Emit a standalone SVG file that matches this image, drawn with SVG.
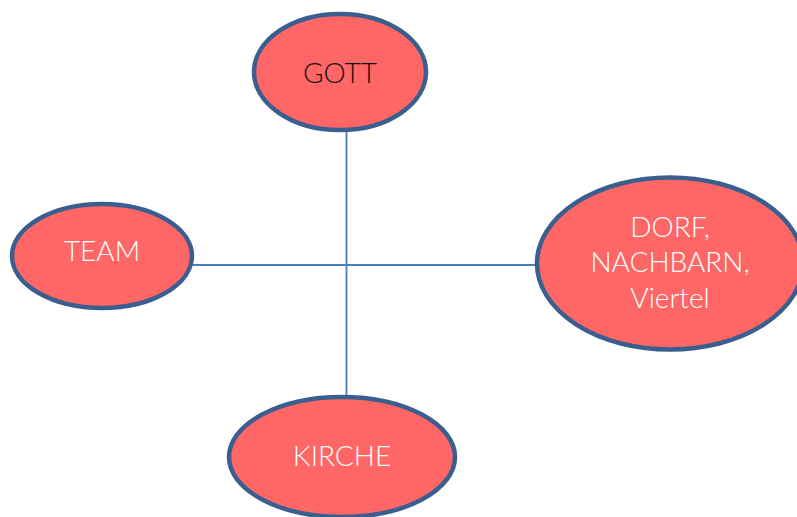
<svg xmlns="http://www.w3.org/2000/svg" width="797" height="517" viewBox="0 0 797 517">
  <style>
    .node ellipse { fill: #ff6666; stroke: #3a5f8e; stroke-width: 4.5; }
    .label { font-family: Lato, "Noto Sans", sans-serif; font-size: 28px; font-weight: 300; text-anchor: middle; }
    .light { fill: #ffffff; }
    .dark { fill: #111111; }
    .edge { stroke: #4a7ebb; stroke-width: 1.8; fill: none; }
  </style>
  <rect width="797" height="517" fill="#ffffff"/>
  <g id="connectors">
    <line class="edge" x1="346.5" y1="132" x2="346.5" y2="397"/>
    <line class="edge" x1="193" y1="265" x2="536" y2="265"/>
  </g>
  <g id="gott" class="node">
    <ellipse cx="340" cy="72" rx="86" ry="58"/>
    <text class="label dark" x="340" y="83">GOTT</text>
  </g>
  <g id="team" class="node">
    <ellipse cx="102" cy="256" rx="90" ry="52"/>
    <text class="label light" x="102" y="261">TEAM</text>
  </g>
  <g id="dorf" class="node">
    <ellipse cx="670" cy="263.5" rx="133" ry="86"/>
    <text class="label light" x="670" y="237">DORF,</text>
    <text class="label light" x="670" y="272">NACHBARN,</text>
    <text class="label light" x="670" y="308">Viertel</text>
  </g>
  <g id="kirche" class="node">
    <ellipse cx="342" cy="457" rx="113" ry="60"/>
    <text class="label light" x="342" y="466">KIRCHE</text>
  </g>
</svg>
